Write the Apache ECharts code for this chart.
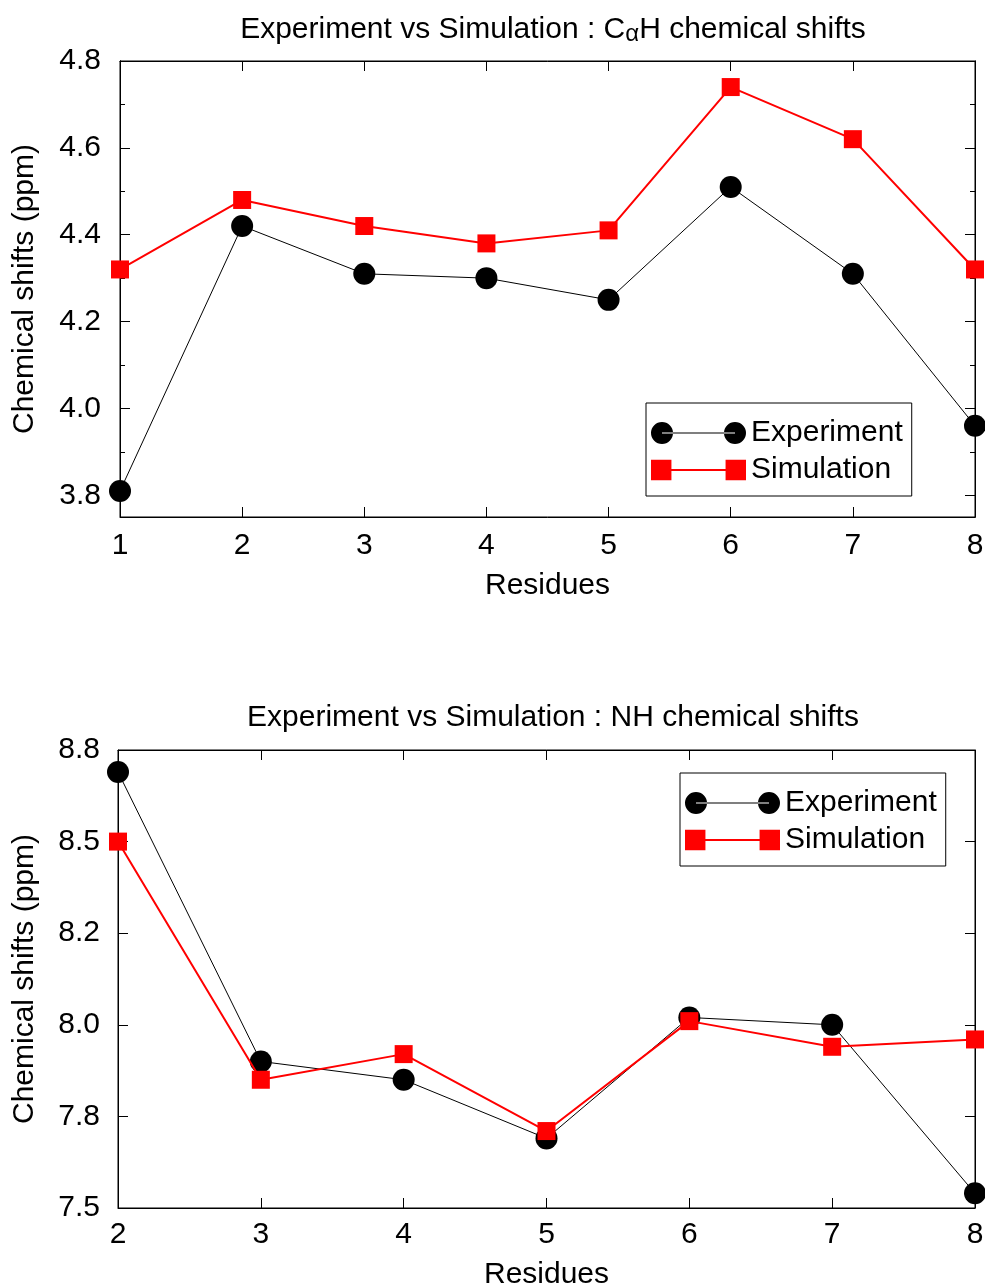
<!DOCTYPE html>
<html>
<head>
<meta charset="utf-8">
<script src="https://cdn.jsdelivr.net/npm/echarts@6/dist/echarts.min.js"></script>
<style>
  html, body { margin: 0; padding: 0; background: #fff; }
  #chart { width: 985px; height: 1288px; }
</style>
</head>
<body>
<div id="chart"></div>
<script>
// top panel: C-alpha H shifts
const residuesCA = [1, 2, 3, 4, 5, 6, 7, 8];
const expCA = [3.81, 4.42, 4.31, 4.30, 4.25, 4.51, 4.31, 3.96];
const simCA = [4.32, 4.48, 4.42, 4.38, 4.41, 4.74, 4.62, 4.32];
const caMajorTicks = [3.8, 4.0, 4.2, 4.4, 4.6, 4.8];
const caMinorTicks = [3.9, 4.1, 4.3, 4.5, 4.7];

// bottom panel: NH shifts
const residuesNH = [2, 3, 4, 5, 6, 7, 8];
const expNH = [8.69, 7.90, 7.85, 7.69, 8.02, 8.00, 7.54];
const simNH = [8.50, 7.85, 7.92, 7.71, 8.01, 7.94, 7.96];
const nhTickValues = [7.5, 7.75, 8.0, 8.25, 8.5, 8.75];
const nhTickLabels = ['7.5', '7.8', '8.0', '8.2', '8.5', '8.8'];

const FONT = "'Liberation Sans', Arial, sans-serif";
const RED = '#ff0000';
const FS = 30;

// gnuplot style key samples: marker - line - marker
const circleIcon = 'path://M0,12a11,11 0 1,0 22,0a11,11 0 1,0 -22,0Z M73,12a11,11 0 1,0 22,0a11,11 0 1,0 -22,0Z M11,11.4L84,11.4L84,12.6L11,12.6Z';
const squareIcon = 'path://M1,2H21V22H1Z M74,2H94V22H74Z M11,11L84,11L84,13L11,13Z';

const pairs = (xs, ys) => xs.map((x, i) => [x, ys[i]]);

const chart = echarts.init(document.getElementById('chart'), null, { renderer: 'canvas' });

const labelStyle = { color: '#000', fontSize: FS, fontFamily: FONT };
const nameStyle = { fontSize: FS, color: '#000', fontFamily: FONT };
const axisLine = { show: true, lineStyle: { color: '#000', width: 1 } };

function tickAxis(gridIndex, pos, min, max, ticks, len) {
  return {
    type: 'value', gridIndex, position: pos, min, max,
    axisLine,
    splitLine: { show: false },
    axisLabel: { show: false },
    axisTick: { show: true, inside: true, length: len, customValues: ticks, lineStyle: { color: '#000' } }
  };
}

function legendAt(names, left, top, fmt) {
  return {
    data: [{ name: names[0], icon: circleIcon }, { name: names[1], icon: squareIcon }],
    orient: 'vertical', left, top,
    itemWidth: 95, itemHeight: 24, itemGap: 7,
    padding: [15, 9, 11, 5],
    borderColor: '#000', borderWidth: 1, borderRadius: 0,
    selectedMode: false,
    formatter: fmt,
    textStyle: { fontSize: FS, color: '#000', fontFamily: FONT }
  };
}

const option = {
  animation: false,
  backgroundColor: '#fff',
  textStyle: { fontFamily: FONT },
  title: [
    {
      text: '{a|Experiment vs Simulation : C}{b|α}{a|H chemical shifts}',
      left: 548, top: 8, textAlign: 'center',
      textStyle: {
        fontWeight: 'normal',
        rich: {
          a: { fontSize: FS, color: '#000', fontFamily: FONT, fontWeight: 'normal' },
          b: { fontSize: 24, color: '#000', fontFamily: FONT, fontWeight: 'normal', padding: [9, 0, 0, 0] }
        }
      }
    },
    {
      text: 'Experiment vs Simulation : NH chemical shifts',
      left: 548, top: 698, textAlign: 'center',
      textStyle: { fontSize: FS, color: '#000', fontFamily: FONT, fontWeight: 'normal' }
    }
  ],
  legend: [
    legendAt(['Experiment', 'Simulation'], 646, 403),
    legendAt(['Experiment NH', 'Simulation NH'], 680, 773, (n) => n.replace(' NH', ''))
  ],
  grid: [
    { left: 120, right: 10, top: 61, height: 456, outerBoundsMode: 'none', containLabel: false,
      show: true, borderColor: '#000', borderWidth: 1 },
    { left: 118, right: 10, top: 750, height: 458, outerBoundsMode: 'none', containLabel: false,
      show: true, borderColor: '#000', borderWidth: 1 }
  ],
  xAxis: [
    {
      type: 'value', gridIndex: 0, position: 'bottom', min: 1, max: 8, interval: 1,
      axisLine, splitLine: { show: false },
      axisTick: { inside: true, length: 10, lineStyle: { color: '#000' } },
      axisLabel: Object.assign({ margin: 14 }, labelStyle),
      name: 'Residues', nameLocation: 'middle', nameGap: 54, nameTextStyle: nameStyle
    },
    tickAxis(0, 'top', 1, 8, residuesCA, 10),
    {
      type: 'value', gridIndex: 1, position: 'bottom', min: 2, max: 8, interval: 1,
      axisLine, splitLine: { show: false },
      axisTick: { inside: true, length: 10, lineStyle: { color: '#000' } },
      axisLabel: Object.assign({ margin: 12 }, labelStyle),
      name: 'Residues', nameLocation: 'middle', nameGap: 52, nameTextStyle: nameStyle
    },
    tickAxis(1, 'top', 2, 8, residuesNH, 10)
  ],
  yAxis: [
    {
      type: 'value', gridIndex: 0, position: 'left', min: 3.75, max: 4.8,
      axisLine, splitLine: { show: false },
      axisTick: { inside: true, length: 10, customValues: caMajorTicks, lineStyle: { color: '#000' } },
      axisLabel: Object.assign({ margin: 19, customValues: caMajorTicks, formatter: (v) => v.toFixed(1) }, labelStyle),
      name: 'Chemical shifts (ppm)', nameLocation: 'middle', nameGap: 80, nameTextStyle: nameStyle
    },
    tickAxis(0, 'left', 3.75, 4.8, caMinorTicks, 5),
    tickAxis(0, 'right', 3.75, 4.8, caMajorTicks, 10),
    tickAxis(0, 'right', 3.75, 4.8, caMinorTicks, 5),
    {
      type: 'value', gridIndex: 1, position: 'left', min: 7.5, max: 8.75, interval: 0.25,
      axisLine, splitLine: { show: false },
      axisTick: { inside: true, length: 10, lineStyle: { color: '#000' } },
      axisLabel: Object.assign({
        margin: 18,
        formatter: (v) => {
          const i = nhTickValues.findIndex(t => Math.abs(t - v) < 1e-6);
          return i >= 0 ? nhTickLabels[i] : '';
        }
      }, labelStyle),
      name: 'Chemical shifts (ppm)', nameLocation: 'middle', nameGap: 78, nameTextStyle: nameStyle
    },
    tickAxis(1, 'right', 7.5, 8.75, nhTickValues, 10)
  ],
  series: [
    {
      name: 'Experiment', type: 'line', xAxisIndex: 0, yAxisIndex: 0,
      data: pairs(residuesCA, expCA),
      symbol: 'circle', symbolSize: 22, clip: false,
      lineStyle: { color: '#000', width: 1 }, itemStyle: { color: '#000' }, z: 2
    },
    {
      name: 'Simulation', type: 'line', xAxisIndex: 0, yAxisIndex: 0,
      data: pairs(residuesCA, simCA),
      symbol: 'rect', symbolSize: 18, clip: false,
      lineStyle: { color: RED, width: 2 }, itemStyle: { color: RED }, z: 3
    },
    {
      name: 'Experiment NH', type: 'line', xAxisIndex: 2, yAxisIndex: 4,
      data: pairs(residuesNH, expNH),
      symbol: 'circle', symbolSize: 22, clip: false,
      lineStyle: { color: '#000', width: 1 }, itemStyle: { color: '#000' }, z: 2
    },
    {
      name: 'Simulation NH', type: 'line', xAxisIndex: 2, yAxisIndex: 4,
      data: pairs(residuesNH, simNH),
      symbol: 'rect', symbolSize: 18, clip: false,
      lineStyle: { color: RED, width: 2 }, itemStyle: { color: RED }, z: 3
    }
  ]
};

chart.setOption(option);
</script>
</body>
</html>
